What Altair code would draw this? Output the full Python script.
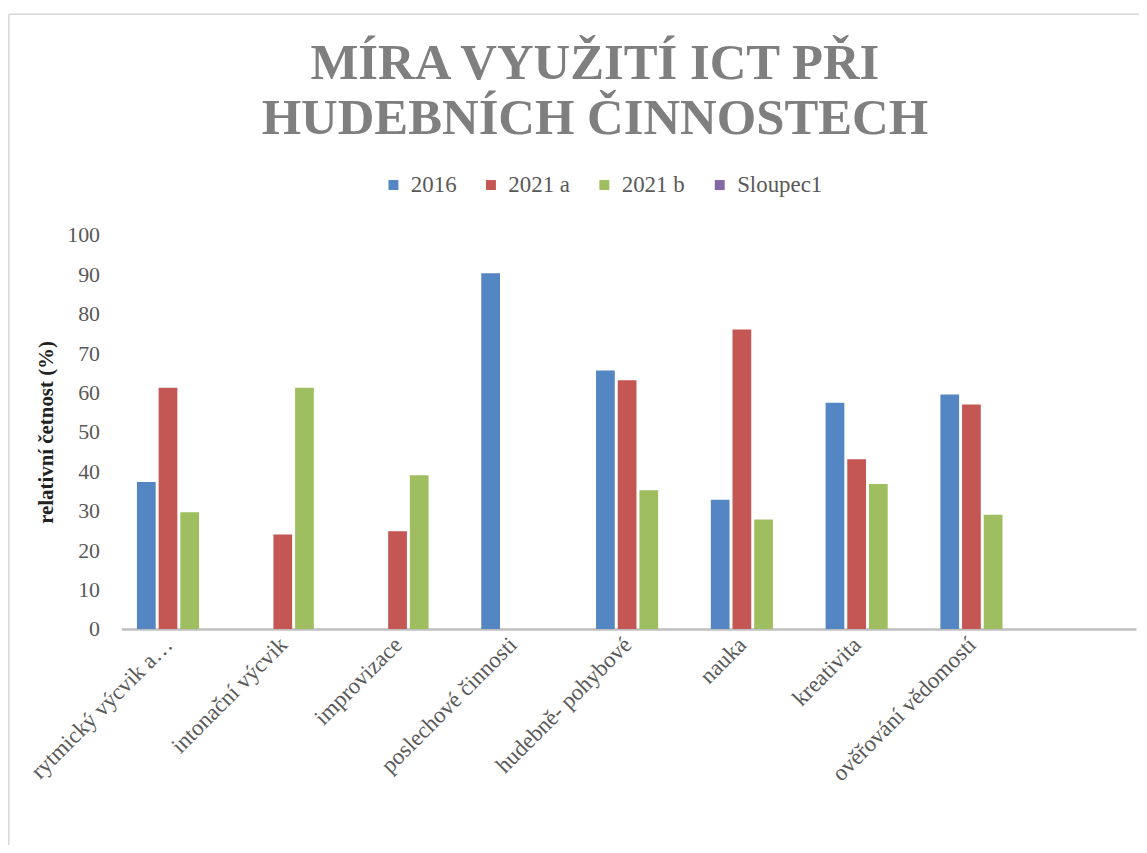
import altair as alt
import pandas as pd

categories = [
    "rytmický výcvik a…",
    "intonační výcvik",
    "improvizace",
    "poslechové činnosti",
    "hudebně- pohybové",
    "nauka",
    "kreativita",
    "ověřování vědomostí",
]
series = ["2016", "2021 a", "2021 b", "Sloupec1"]
v2016 = [37.3, None, None, 90.3, 65.6, 32.8, 57.4, 59.5]
v2021a = [61.2, 24.0, 24.8, None, 63.1, 76.0, 43.1, 57.0]
v2021b = [29.6, 61.2, 39.0, None, 35.2, 27.8, 36.8, 29.0]
vsloupec1 = [None] * 8
colors = ["#5486c3", "#c45653", "#9fbe60", "#8468a6"]

rows = []
for s, vals in zip(series, [v2016, v2021a, v2021b, vsloupec1]):
    for c, v in zip(categories, vals):
        if v is not None:
            rows.append({"kategorie": c, "rada": s, "hodnota": v})
df = pd.DataFrame(rows)

W, H = 1020, 396
FONT = "Liberation Serif"
LFONT = "Liberation Serif, Times New Roman, serif"

bars = alt.Chart(df).mark_bar().encode(
    x=alt.X(
        "kategorie:N",
        sort=categories,
        scale=alt.Scale(domain=categories, paddingInner=0.27, paddingOuter=0.555, align=0.122),
        axis=alt.Axis(
            title=None, labelAngle=-45, labelAlign="right", labelBaseline="middle",
            ticks=False, labelPadding=12, labelOffset=-10, labelLimit=300,
            labelFont=FONT, labelFontSize=23, labelColor="#595959",
            domainColor="#bfbfbf", domainWidth=2.5,
        ),
    ),
    xOffset=alt.XOffset("rada:N", scale=alt.Scale(domain=series, paddingInner=0.136, paddingOuter=0)),
    y=alt.Y(
        "hodnota:Q",
        scale=alt.Scale(domain=[0, 100]),
        axis=alt.Axis(
            values=list(range(0, 101, 10)), title="relativní četnost (%)", grid=False,
            domain=False, ticks=False, labelPadding=22,
            labelFont=FONT, labelFontSize=22, labelColor="#595959",
            titleFont=FONT, titleFontSize=21, titleFontWeight="bold", titleColor="#222222",
            titlePadding=10,
        ),
    ),
    color=alt.Color(
        "rada:N",
        scale=alt.Scale(domain=series, range=colors),
        legend=alt.Legend(
            title=None, orient="none", legendX=262, legendY=-62, direction="horizontal",
            columns=4, symbolType="square", symbolSize=100, symbolStrokeWidth=0,
            labelFont=LFONT, labelFontSize=23, labelColor="#595959", labelOffset=6,
            labelFontWeight="normal", columnPadding=23,
        ),
    ),
)

frame_df = pd.DataFrame({"k": [0]})
frame_left = alt.Chart(frame_df).mark_rule(color="#d9d9d9", strokeWidth=1.5).encode(
    x=alt.value(-113.2), y=alt.value(-222), y2=alt.value(H + 240)
)
frame_top = alt.Chart(frame_df).mark_rule(color="#d9d9d9", strokeWidth=1.5).encode(
    x=alt.value(-113.2), x2=alt.value(W + 40), y=alt.value(-222)
)

chart = alt.layer(frame_left, frame_top, bars).properties(
    width=W,
    height=H,
    autosize=alt.AutoSizeParams(type="none"),
    padding={"left": 114, "top": 226, "right": 3, "bottom": 215},
    title=alt.TitleParams(
        text=["MÍRA VYUŽITÍ ICT PŘI", "HUDEBNÍCH ČINNOSTECH"],
        font=FONT, fontSize=51, fontWeight="bold", color="#7f7f7f",
        anchor="middle", frame="group", lineHeight=55, offset=0, dx=-34, dy=132,
    ),
).configure(
    font=FONT,
).configure_legend(
    labelFont=LFONT, labelFontSize=23, labelColor="#595959"
).configure_view(stroke=None)

chart.save("out.html", embed_options={"renderer": "svg", "actions": False})
